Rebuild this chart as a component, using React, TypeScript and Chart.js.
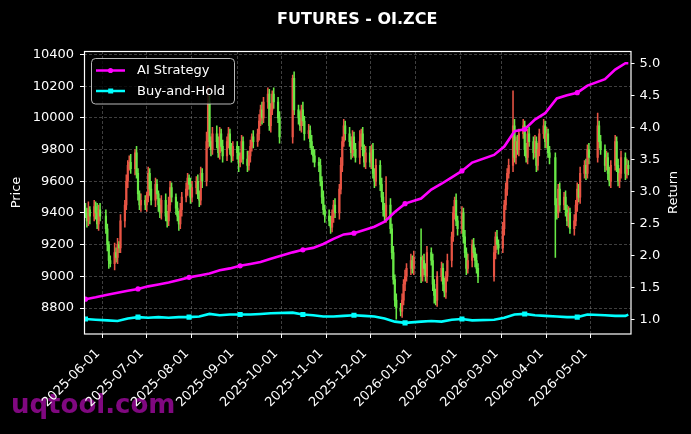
import React, { useEffect, useRef } from 'react';
import { Chart, registerables } from 'chart.js';

Chart.register(...registerables);

const TITLE = 'FUTURES - OI.ZCE';
const WATERMARK = 'uqtool.com';
const SERIES_NAMES = ['AI Strategy', 'Buy-and-Hold'];
const Y_TITLE = 'Price';
const Y2_TITLE = 'Return';

const FIRST_DAY = '2025-05-20';
const LAST_DAY = '2026-05-27';
const X_MIN_DAY = '2025-05-19';
const X_MAX_DAY = '2026-05-28';
const HOLIDAYS = [
  '2025-06-02',
  '2025-10-01', '2025-10-02', '2025-10-03', '2025-10-06', '2025-10-07', '2025-10-08',
  '2026-01-01', '2026-01-02',
  '2026-02-16', '2026-02-17', '2026-02-18', '2026-02-19', '2026-02-20', '2026-02-23',
  '2026-04-06',
  '2026-05-01', '2026-05-04', '2026-05-05',
];

const TICK_LABELS = [
  '2025-06-01', '2025-07-01', '2025-08-01', '2025-09-01', '2025-10-01', '2025-11-01',
  '2025-12-01', '2026-01-01', '2026-02-01', '2026-03-01', '2026-04-01', '2026-05-01',
];
const PRICE_TICKS = [8800, 9000, 9200, 9400, 9600, 9800, 10000, 10200, 10400];
const RETURN_TICKS = [1.0, 1.5, 2.0, 2.5, 3.0, 3.5, 4.0, 4.5, 5.0];
const PRICE_MIN = 8636;
const PRICE_MAX = 10422;
const RETURN_MIN = 0.777;
const RETURN_MAX = 5.19;

const FIRST_OPEN = 9420;

// daily closes, grouped by month of trading days
const closeMay25 = [9400, 9350, 9420, 9380, 9440, 9400, 9330, 9420, 9380];
const closeJun25 = [9300, 9200, 9100, 9080, 9150, 9120, 9200, 9180, 9350, 9450, 9600, 9700, 9720, 9680, 9780, 9650, 9520, 9450, 9480, 9450];
const closeJul25 = [9500, 9650, 9550, 9480, 9580, 9520, 9450, 9400, 9480, 9380, 9350, 9450, 9560, 9500, 9430, 9380, 9330, 9420, 9500, 9550, 9620, 9580, 9500];
const closeAug25 = [9560, 9600, 9520, 9480, 9650, 9600, 9850, 10100, 9850, 9800, 9900, 9850, 9780, 9900, 9820, 9760, 9850, 9900, 9800, 9760, 9820];
const closeSep25 = [9780, 9720, 9760, 9850, 9740, 9700, 9760, 9820, 9880, 9850, 9900, 9980, 10050, 10000, 10100, 10150, 9950, 10050, 10150, 10100, 10000, 9880];
const closeOct25 = [10250, 10050, 10000, 9950, 10050, 9980, 9900, 9920, 9850, 9800, 9760, 9720, 9700, 9600, 9500, 9420, 9380];
const closeNov25 = [9350, 9310, 9380, 9450, 9400, 9550, 9700, 9850, 9950, 9900, 9850, 9780, 9880, 9800, 9750, 9850, 9900, 9800, 9720, 9780];
const closeDec25 = [9720, 9800, 9650, 9600, 9700, 9580, 9500, 9420, 9380, 9450, 9300, 9150, 8980, 8850, 8800, 8780, 8850, 8950, 9000, 9050, 9100, 9050, 9120];
const closeJan26 = [9000, 9100, 9050, 9000, 9150, 9100, 8950, 8880, 8850, 9000, 9050, 8950, 8900, 9000, 9100, 9250, 9400, 9480, 9350, 9300];
const closeFeb26 = [9400, 9250, 9150, 9050, 9100, 9200, 9150, 9100, 9050, 9000, 9150, 9250, 9200, 9180];
const closeMar26 = [9300, 9450, 9550, 9650, 9700, 9950, 9750, 9850, 9800, 9900, 9950, 9800, 9750, 9900, 9850, 9780, 9850, 9700, 9800, 9900, 9950, 9850];
const closeApr26 = [9900, 9780, 9750, 9450, 9400, 9550, 9450, 9500, 9420, 9350, 9400, 9300, 9350, 9450, 9550, 9500, 9650, 9700, 9650, 9800, 9750];
const closeMay26 = [9950, 9850, 9800, 9700, 9750, 9650, 9600, 9700, 9850, 9700, 9600, 9650, 9750, 9650, 9700, 9680];

// upper wick above the body, per trading day
const wickUpMay25 = [40, 30, 50, 20, 40, 30, 60, 30, 40];
const wickUpJun25 = [40, 30, 20, 30, 60, 30, 40, 20, 40, 30, 40, 30, 40, 50, 20, 40, 30, 20, 40, 30];
const wickUpJul25 = [30, 40, 30, 50, 40, 30, 20, 40, 30, 40, 30, 50, 40, 30, 20, 40, 30, 40, 30, 40, 30, 20, 40];
const wickUpAug25 = [40, 30, 40, 20, 40, 30, 60, 100, 40, 30, 40, 50, 30, 40, 30, 40, 30, 40, 30, 40, 30];
const wickUpSep25 = [30, 40, 20, 40, 30, 50, 30, 40, 20, 40, 30, 40, 30, 50, 30, 40, 30, 40, 20, 40, 30, 40];
const wickUpOct25 = [20, 40, 30, 40, 30, 50, 30, 40, 30, 40, 20, 40, 30, 40, 30, 40, 30];
const wickUpNov25 = [40, 30, 40, 30, 40, 30, 50, 30, 40, 30, 40, 30, 40, 30, 40, 70, 30, 40, 30, 40];
const wickUpDec25 = [40, 30, 40, 30, 40, 30, 40, 30, 40, 180, 40, 30, 40, 30, 40, 30, 40, 30, 40, 30, 40, 30, 40];
const wickUpJan26 = [180, 30, 40, 30, 40, 30, 40, 30, 40, 30, 40, 30, 40, 30, 40, 30, 40, 20, 40, 30];
const wickUpFeb26 = [40, 30, 40, 30, 40, 30, 40, 30, 40, 30, 40, 30, 40, 30];
const wickUpMar26 = [40, 30, 40, 30, 40, 220, 40, 30, 40, 30, 40, 30, 40, 30, 40, 30, 40, 30, 40, 30, 40, 30];
const wickUpApr26 = [40, 30, 40, 30, 40, 30, 40, 30, 40, 30, 40, 30, 40, 30, 40, 30, 40, 30, 40, 30, 40];
const wickUpMay26 = [80, 30, 40, 30, 40, 30, 40, 30, 40, 30, 40, 30, 40, 30, 40, 30];

// lower wick below the body, per trading day
const wickDnMay25 = [30, 40, 30, 50, 30, 40, 30, 40, 30];
const wickDnJun25 = [30, 40, 50, 20, 40, 30, 40, 30, 30, 40, 30, 40, 30, 30, 40, 30, 40, 30, 40, 30];
const wickDnJul25 = [40, 30, 40, 30, 40, 30, 40, 30, 40, 30, 40, 30, 40, 30, 40, 30, 40, 30, 40, 30, 40, 30, 40];
const wickDnAug25 = [30, 40, 30, 40, 30, 40, 30, 40, 30, 40, 30, 40, 30, 40, 30, 40, 30, 40, 30, 40, 30];
const wickDnSep25 = [40, 60, 30, 40, 30, 40, 30, 40, 30, 40, 30, 40, 30, 40, 30, 40, 30, 40, 30, 40, 30, 40];
const wickDnOct25 = [40, 30, 40, 30, 40, 30, 40, 30, 40, 30, 40, 30, 40, 30, 40, 30, 40];
const wickDnNov25 = [30, 40, 30, 40, 30, 40, 30, 40, 30, 40, 30, 40, 30, 40, 30, 40, 30, 40, 30, 40];
const wickDnDec25 = [30, 40, 30, 40, 30, 40, 30, 40, 30, 40, 30, 40, 30, 40, 70, 30, 40, 30, 40, 30, 40, 30, 40];
const wickDnJan26 = [40, 30, 40, 30, 40, 30, 40, 50, 30, 40, 30, 40, 30, 40, 30, 40, 30, 40, 30, 40];
const wickDnFeb26 = [30, 40, 30, 40, 30, 40, 30, 40, 30, 40, 30, 40, 30, 40];
const wickDnMar26 = [30, 40, 30, 40, 30, 40, 30, 40, 30, 40, 30, 40, 30, 40, 30, 40, 30, 40, 30, 40, 30, 40];
const wickDnApr26 = [40, 30, 40, 330, 40, 30, 40, 30, 40, 30, 40, 30, 40, 30, 40, 30, 40, 30, 40, 30, 40];
const wickDnMay26 = [30, 40, 30, 40, 30, 40, 30, 40, 30, 40, 30, 40, 30, 40, 30, 40];

// cumulative return, sampled every RETURN_STEP trading days
const RETURN_STEP = 5;
const MARK_EVERY = 25;
const aiReturn = [1.32, 1.35, 1.39, 1.42, 1.45, 1.48, 1.52, 1.55, 1.58, 1.62, 1.66, 1.69, 1.72, 1.77, 1.80, 1.84, 1.87, 1.90, 1.95, 2.05, 2.09, 2.12, 2.18, 2.26, 2.33, 2.35, 2.40, 2.45, 2.53, 2.68, 2.81, 2.89, 3.03, 3.12, 3.22, 3.32, 3.45, 3.57, 3.70, 3.94, 3.97, 4.12, 4.22, 4.45, 4.50, 4.54, 4.65, 4.75, 4.90, 5.00, 5.00];
const bhReturn = [1.01, 1.00, 0.99, 0.98, 1.02, 1.04, 1.03, 1.04, 1.03, 1.04, 1.04, 1.05, 1.09, 1.07, 1.08, 1.08, 1.08, 1.09, 1.10, 1.11, 1.08, 1.07, 1.05, 1.05, 1.06, 1.07, 1.06, 1.05, 1.02, 0.97, 0.95, 0.97, 0.98, 0.97, 1.00, 1.01, 0.99, 1.00, 1.03, 1.08, 1.09, 1.07, 1.06, 1.05, 1.04, 1.04, 1.08, 1.07, 1.06, 1.06, 1.08];

const closes = [
  ...closeMay25, ...closeJun25, ...closeJul25, ...closeAug25, ...closeSep25, ...closeOct25,
  ...closeNov25, ...closeDec25, ...closeJan26, ...closeFeb26, ...closeMar26, ...closeApr26, ...closeMay26,
];
const wickUp = [
  ...wickUpMay25, ...wickUpJun25, ...wickUpJul25, ...wickUpAug25, ...wickUpSep25, ...wickUpOct25,
  ...wickUpNov25, ...wickUpDec25, ...wickUpJan26, ...wickUpFeb26, ...wickUpMar26, ...wickUpApr26, ...wickUpMay26,
];
const wickDn = [
  ...wickDnMay25, ...wickDnJun25, ...wickDnJul25, ...wickDnAug25, ...wickDnSep25, ...wickDnOct25,
  ...wickDnNov25, ...wickDnDec25, ...wickDnJan26, ...wickDnFeb26, ...wickDnMar26, ...wickDnApr26, ...wickDnMay26,
];

const UP_COLOR = 'rgb(232,84,68)';
const DOWN_COLOR = 'rgb(104,232,70)';
const AI_COLOR = '#ff00ff';
const BH_COLOR = '#00ffff';
const GRID_COLOR = 'rgba(150,150,150,0.42)';
const FONT = '"DejaVu Sans", "Liberation Sans", sans-serif';

const dayNum = (s: string) =>
  Math.round(Date.UTC(+s.slice(0, 4), +s.slice(5, 7) - 1, +s.slice(8, 10)) / 86400000);

function buildTradingDays(): number[] {
  const hol = new Set(HOLIDAYS.map(dayNum));
  const out: number[] = [];
  for (let d = dayNum(FIRST_DAY); d <= dayNum(LAST_DAY); d++) {
    const wd = new Date(d * 86400000).getUTCDay();
    if (wd === 0 || wd === 6 || hol.has(d)) continue;
    out.push(d);
  }
  return out;
}

const decorPlugin = {
  id: 'decor',
  beforeDraw(chart: any) {
    const { ctx } = chart;
    ctx.save();
    ctx.fillStyle = '#000';
    ctx.fillRect(0, 0, chart.width, chart.height);
    ctx.font = `bold 26px ${FONT}`;
    ctx.fillStyle = 'rgba(135,8,135,0.95)';
    ctx.textAlign = 'left';
    ctx.textBaseline = 'alphabetic';
    ctx.fillText(WATERMARK, 11, 413);
    ctx.restore();
  },
  afterDraw(chart: any) {
    const { ctx, chartArea: a } = chart;
    ctx.save();
    // spines
    ctx.strokeStyle = '#ffffff';
    ctx.lineWidth = 1.2;
    ctx.strokeRect(Math.round(a.left) + 0.5, Math.round(a.top) + 0.5, Math.round(a.right - a.left) - 0.5, Math.round(a.bottom - a.top) - 0.5);
    // title
    ctx.fillStyle = '#ffffff';
    ctx.font = `bold 16px ${FONT}`;
    ctx.textAlign = 'center';
    ctx.textBaseline = 'alphabetic';
    ctx.fillText(TITLE, (a.left + a.right) / 2, 23.5);
    // axis titles
    ctx.font = `13px ${FONT}`;
    ctx.textBaseline = 'middle';
    const cy = (a.top + a.bottom) / 2;
    ctx.save();
    ctx.translate(17, cy);
    ctx.rotate(-Math.PI / 2);
    ctx.fillText(Y_TITLE, 0, 0);
    ctx.restore();
    ctx.save();
    ctx.translate(673.5, cy);
    ctx.rotate(-Math.PI / 2);
    ctx.fillText(Y2_TITLE, 0, 0);
    ctx.restore();
    // legend
    const lx = 91.5, ly = 58.5, lw = 143, lh = 45.5;
    ctx.beginPath();
    if (typeof ctx.roundRect === 'function') ctx.roundRect(lx, ly, lw, lh, 4);
    else ctx.rect(lx, ly, lw, lh);
    ctx.fillStyle = 'rgba(0,0,0,0.8)';
    ctx.fill();
    ctx.strokeStyle = 'rgba(204,204,204,0.9)';
    ctx.lineWidth = 1;
    ctx.stroke();
    const entries = [
      { name: SERIES_NAMES[0], color: AI_COLOR, square: false, y: 70.5 },
      { name: SERIES_NAMES[1], color: BH_COLOR, square: true, y: 91 },
    ];
    entries.forEach((e) => {
      ctx.strokeStyle = e.color;
      ctx.lineWidth = 2.5;
      ctx.beginPath();
      ctx.moveTo(96, e.y);
      ctx.lineTo(125, e.y);
      ctx.stroke();
      ctx.fillStyle = e.color;
      if (e.square) ctx.fillRect(108.2, e.y - 2.5, 5, 5);
      else {
        ctx.beginPath();
        ctx.arc(110.5, e.y, 2.6, 0, Math.PI * 2);
        ctx.fill();
      }
      ctx.fillStyle = '#ffffff';
      ctx.font = `13px ${FONT}`;
      ctx.textAlign = 'left';
      ctx.textBaseline = 'middle';
      ctx.fillText(e.name, 137, e.y + 0.5);
    });
    ctx.restore();
  },
};

export default function App() {
  const ref = useRef<HTMLCanvasElement | null>(null);

  useEffect(() => {
    if (!ref.current) return;
    const days = buildTradingDays();
    const n = Math.min(days.length, closes.length, wickUp.length, wickDn.length);
    const wicks: any[] = [];
    const bodies: any[] = [];
    const colors: string[] = [];
    for (let i = 0; i < n; i++) {
      const open = i === 0 ? FIRST_OPEN : closes[i - 1];
      const close = closes[i];
      const hi = Math.max(open, close) + wickUp[i];
      const lo = Math.min(open, close) - wickDn[i];
      wicks.push({ x: days[i], y: [lo, hi] });
      bodies.push({ x: days[i], y: [open, close] });
      colors.push(close >= open ? UP_COLOR : DOWN_COLOR);
    }
    const retPoints = (vals: number[]) =>
      vals.map((v, k) => ({ x: days[Math.min(k * RETURN_STEP, n - 1)], y: v, mark: k * RETURN_STEP < n && (k * RETURN_STEP) % MARK_EVERY === 0 }));
    const aiPts = retPoints(aiReturn);
    const bhPts = retPoints(bhReturn);
    const tickDays = TICK_LABELS.map(dayNum);

    const chart = new Chart(ref.current, {
      type: 'bar',
      data: {
        datasets: [
          {
            type: 'line',
            label: SERIES_NAMES[0],
            data: aiPts as any,
            yAxisID: 'y2',
            borderColor: AI_COLOR,
            backgroundColor: AI_COLOR,
            borderWidth: 2.6,
            pointStyle: 'circle',
            pointRadius: (c: any) => (aiPts[c.dataIndex] && aiPts[c.dataIndex].mark ? 2.6 : 0),
            pointBorderWidth: 0,
            pointBackgroundColor: AI_COLOR,
            tension: 0,
            order: 0,
          } as any,
          {
            type: 'line',
            label: SERIES_NAMES[1],
            data: bhPts as any,
            yAxisID: 'y2',
            borderColor: BH_COLOR,
            backgroundColor: BH_COLOR,
            borderWidth: 2.6,
            pointStyle: 'rect',
            pointRadius: (c: any) => (bhPts[c.dataIndex] && bhPts[c.dataIndex].mark ? 3.6 : 0),
            pointBorderWidth: 0,
            pointBackgroundColor: BH_COLOR,
            tension: 0,
            order: 1,
          } as any,
          {
            type: 'bar',
            label: 'wick',
            data: wicks,
            yAxisID: 'y',
            backgroundColor: colors,
            borderWidth: 0,
            barThickness: 0.9,
            grouped: false,
            order: 3,
          } as any,
          {
            type: 'bar',
            label: 'body',
            data: bodies,
            yAxisID: 'y',
            backgroundColor: colors,
            borderWidth: 0,
            barThickness: 1.5,
            grouped: false,
            order: 2,
          } as any,
        ],
      },
      options: {
        responsive: false,
        animation: false,
        devicePixelRatio: 1,
        events: [],
        layout: { padding: { top: 51, left: 0, right: 0, bottom: 0 } },
        plugins: { legend: { display: false }, title: { display: false }, tooltip: { enabled: false } },
        scales: {
          x: {
            type: 'linear',
            min: dayNum(X_MIN_DAY),
            max: dayNum(X_MAX_DAY) + 0.5,
            offset: false,
            afterBuildTicks: (s: any) => {
              s.ticks = tickDays.map((v) => ({ value: v }));
            },
            afterFit: (s: any) => {
              s.height = 100;
            },
            ticks: {
              autoSkip: false,
              minRotation: 45,
              maxRotation: 45,
              color: '#ffffff',
              font: { family: FONT, size: 13 },
              padding: 8,
              labelOffset: -5,
              callback: (v: any) => {
                const i = tickDays.indexOf(Number(v));
                return i >= 0 ? TICK_LABELS[i] : '';
              },
            },
            grid: {
              offset: false,
              color: GRID_COLOR,
              lineWidth: 1,
              drawTicks: true,
              tickLength: 4,
              tickColor: '#ffffff',
              tickWidth: 1,
            },
            border: { display: false, dash: [3, 2] },
          },
          y: {
            type: 'linear',
            position: 'left',
            min: PRICE_MIN,
            max: PRICE_MAX,
            afterBuildTicks: (s: any) => {
              s.ticks = PRICE_TICKS.map((v) => ({ value: v }));
            },
            afterFit: (s: any) => {
              s.width = 84;
            },
            ticks: {
              color: '#ffffff',
              font: { family: FONT, size: 13 },
              padding: 6,
              callback: (v: any) => String(v),
            },
            grid: {
              color: GRID_COLOR,
              lineWidth: 1,
              drawTicks: true,
              tickLength: 4,
              tickColor: '#ffffff',
              tickWidth: 1,
            },
            border: { display: false, dash: [3, 2] },
          },
          y2: {
            type: 'linear',
            position: 'right',
            min: RETURN_MIN,
            max: RETURN_MAX,
            afterBuildTicks: (s: any) => {
              s.ticks = RETURN_TICKS.map((v) => ({ value: v }));
            },
            afterFit: (s: any) => {
              s.width = 60.5;
            },
            ticks: {
              color: '#ffffff',
              font: { family: FONT, size: 13 },
              padding: 5,
              callback: (v: any) => Number(v).toFixed(1),
            },
            grid: {
              drawOnChartArea: false,
              drawTicks: true,
              tickLength: 4,
              tickColor: '#ffffff',
              tickWidth: 1,
            },
            border: { display: false },
          },
        },
      } as any,
      plugins: [decorPlugin],
    });
    return () => chart.destroy();
  }, []);

  return (
    <div style={{ position: 'fixed', left: 0, top: 0, width: 691, height: 434, background: '#000' }}>
      <canvas ref={ref} width={691} height={434} style={{ display: 'block', width: 691, height: 434 }} />
    </div>
  );
}
